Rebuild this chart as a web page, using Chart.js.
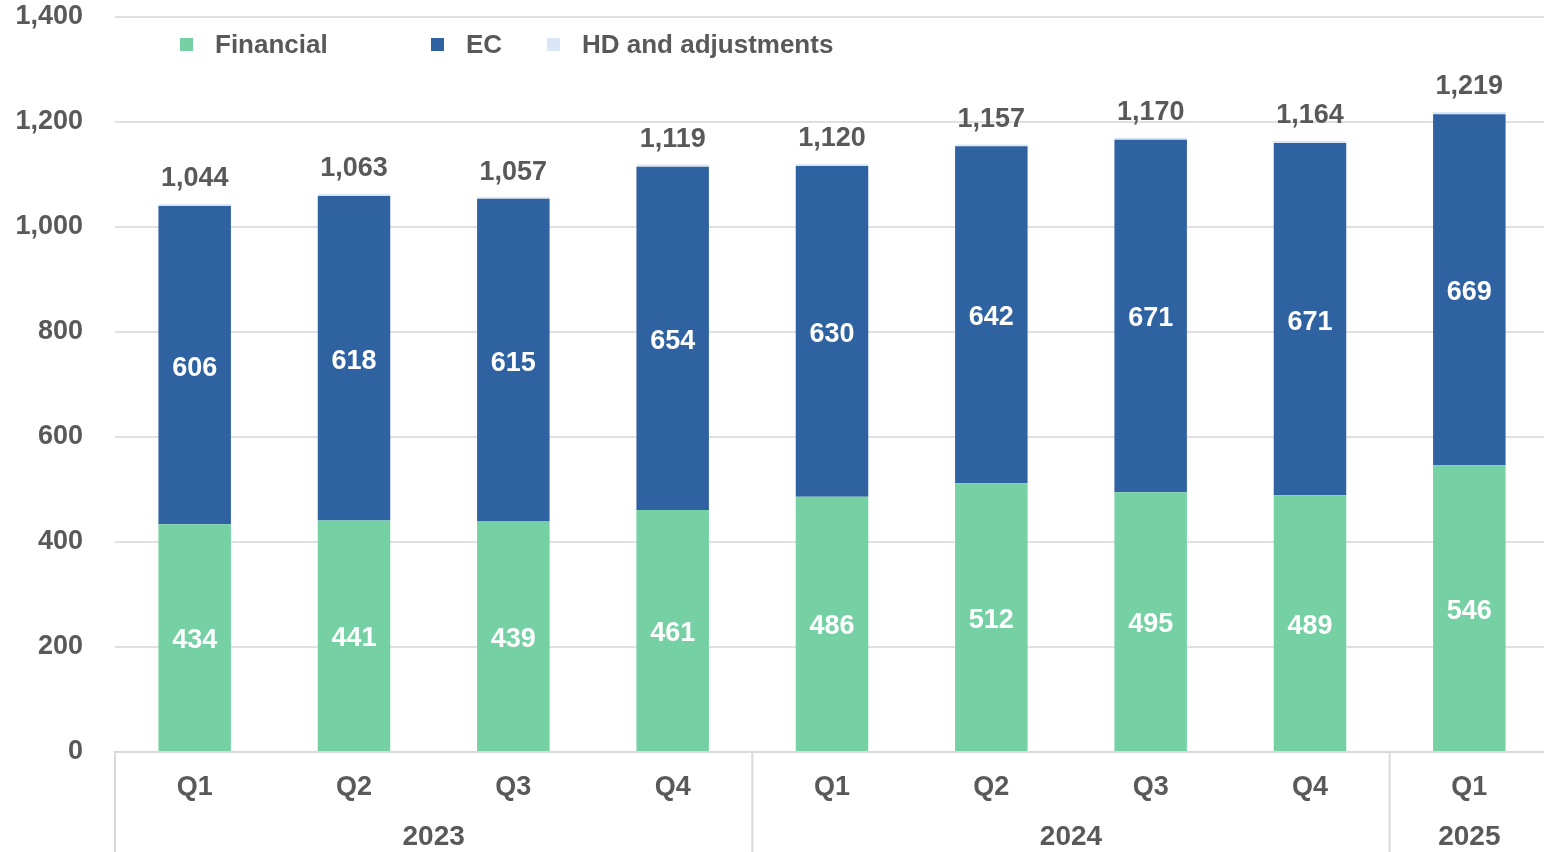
<!DOCTYPE html>
<html lang="en">
<head>
<meta charset="UTF-8">
<title>Revenue by segment</title>
<script src="https://cdn.jsdelivr.net/npm/chart.js"></script>
<style>
  html, body { margin: 0; padding: 0; background: #fff; overflow: hidden; }
  #wrap { width: 1544px; height: 852px; overflow: hidden; }
</style>
</head>
<body>
<div id="wrap"><canvas id="revChart" width="1549" height="852"></canvas></div>
<script>
const quarters = ["Q1", "Q2", "Q3", "Q4", "Q1", "Q2", "Q3", "Q4", "Q1"];
const years = [
  { label: "2023", from: 0, to: 3 },
  { label: "2024", from: 4, to: 7 },
  { label: "2025", from: 8, to: 8 }
];
const financial = [434, 441, 439, 461, 486, 512, 495, 489, 546];
const ec = [606, 618, 615, 654, 630, 642, 671, 671, 669];
const hdAdj = [4, 4, 3, 4, 4, 3, 4, 4, 4];
const yTicks = [0, 200, 400, 600, 800, 1000, 1200, 1400];

const textGrey = "#595959";
const boldFont = "bold 27px 'Liberation Sans', Arial, sans-serif";
const narrowFam = "'Liberation Sans Narrow', 'Liberation Sans', Arial, sans-serif";

function fmt(n) { return n.toLocaleString("en-US"); }

// value labels inside segments and totals on top
const labelPlugin = {
  id: "segLabels",
  afterDatasetsDraw(chart) {
    const ctx = chart.ctx;
    ctx.save();
    ctx.font = boldFont;
    ctx.textAlign = "center";
    ctx.textBaseline = "middle";
    [0, 1].forEach(di => {
      const meta = chart.getDatasetMeta(di);
      meta.data.forEach((bar, i) => {
        ctx.fillStyle = "#ffffff";
        ctx.fillText(chart.data.datasets[di].data[i], bar.x, (bar.y + bar.base) / 2 + 3);
      });
    });
    const last = chart.getDatasetMeta(2);
    last.data.forEach((bar, i) => {
      const total = financial[i] + ec[i] + hdAdj[i];
      ctx.fillStyle = textGrey;
      ctx.fillText(fmt(total), bar.x, bar.y - 25);
    });
    ctx.restore();
  }
};

// year row under the quarter ticks, with separators
const yearPlugin = {
  id: "yearRow",
  afterDraw(chart) {
    const ctx = chart.ctx;
    const x = chart.scales.x;
    const area = chart.chartArea;
    const half = (x.getPixelForValue(1) - x.getPixelForValue(0)) / 2;
    ctx.save();
    ctx.strokeStyle = "#d9d9d9";
    ctx.lineWidth = 2;
    ctx.font = "bold 28px " + narrowFam;
    ctx.fillStyle = textGrey;
    ctx.textAlign = "center";
    ctx.textBaseline = "middle";
    years.forEach(g => {
      const left = x.getPixelForValue(g.from) - half;
      const right = x.getPixelForValue(g.to) + half;
      ctx.beginPath();
      ctx.moveTo(left, area.bottom);
      ctx.lineTo(left, chart.height);
      ctx.stroke();
      ctx.fillText(g.label, (left + right) / 2, area.bottom + 85);
    });
    ctx.restore();
  }
};

// legend drawn inside the plot area, Excel style
const legendPlugin = {
  id: "topLegend",
  afterDraw(chart) {
    const ctx = chart.ctx;
    const slots = [180, 431, 547];
    ctx.save();
    ctx.font = "bold 26px 'Liberation Sans', Arial, sans-serif";
    ctx.textAlign = "left";
    ctx.textBaseline = "middle";
    chart.data.datasets.forEach((ds, i) => {
      const sx = slots[i];
      ctx.fillStyle = ds.backgroundColor;
      ctx.fillRect(sx, 38, 13, 13);
      ctx.fillStyle = textGrey;
      ctx.fillText(ds.label, sx + 35, 46);
    });
    ctx.restore();
  }
};

new Chart(document.getElementById("revChart"), {
  type: "bar",
  data: {
    labels: quarters,
    datasets: [
      { label: "Financial", data: financial, backgroundColor: "#75d1a4" },
      { label: "EC", data: ec, backgroundColor: "#2e62a1" },
      { label: "HD and adjustments", data: hdAdj, backgroundColor: "#dae6f5" }
    ]
  },
  options: {
    responsive: false,
    animation: false,
    layout: { padding: { top: 17, right: 0, bottom: 0, left: 0 } },
    datasets: { bar: { barPercentage: 1, categoryPercentage: 0.455 } },
    plugins: { legend: { display: false }, tooltip: { enabled: false } },
    scales: {
      x: {
        stacked: true,
        grid: { display: false, drawTicks: false },
        border: { display: true, color: "#d9d9d9", width: 2 },
        ticks: {
          color: textGrey,
          font: { family: narrowFam, size: 27, weight: "bold" },
          padding: 19,
          maxRotation: 0,
          autoSkip: false
        },
        afterFit(scale) {
          scale.height = 100;
          scale.paddingLeft = 0;
          scale.paddingRight = 0;
        }
      },
      y: {
        stacked: true,
        min: 0,
        max: 1400,
        afterBuildTicks(scale) { scale.ticks = yTicks.map(v => ({ value: v })); },
        grid: { color: "#e0e0e0", lineWidth: 2, drawTicks: false },
        border: { display: false },
        ticks: {
          color: textGrey,
          font: { family: "'Liberation Sans', Arial, sans-serif", size: 27, weight: "bold" },
          padding: 32,
          callback: v => fmt(v)
        },
        afterFit(scale) {
          scale.width = 115;
          scale.paddingTop = 0;
          scale.paddingBottom = 0;
        }
      }
    }
  },
  plugins: [labelPlugin, yearPlugin, legendPlugin]
});
</script>
</body>
</html>
